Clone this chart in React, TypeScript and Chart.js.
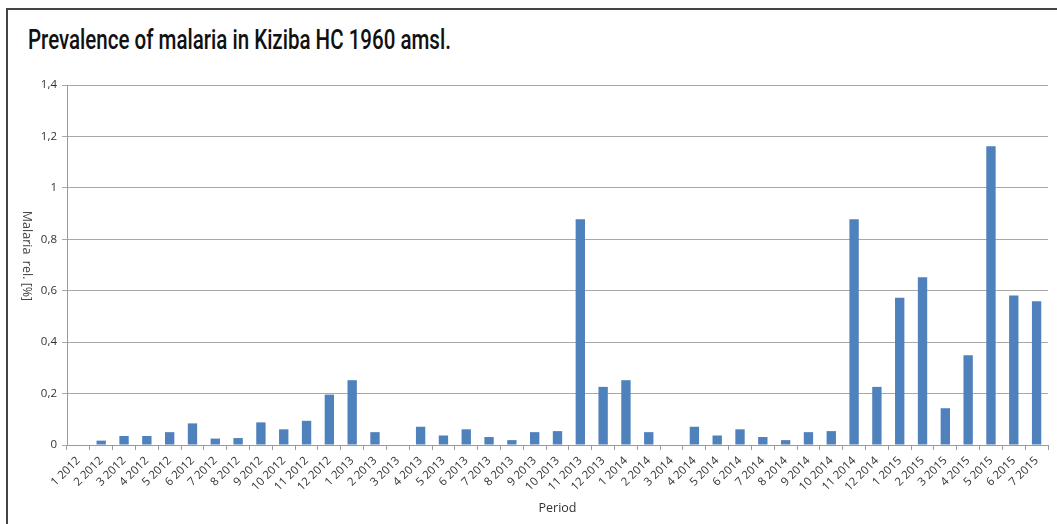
import React, { useEffect, useRef } from "react";
import { Chart, registerables } from "chart.js";

Chart.register(...registerables);

const categories: string[] = [
  "1 2012", "2 2012", "3 2012", "4 2012", "5 2012", "6 2012", "7 2012", "8 2012", "9 2012", "10 2012", "11 2012", "12 2012",
  "1 2013", "2 2013", "3 2013", "4 2013", "5 2013", "6 2013", "7 2013", "8 2013", "9 2013", "10 2013", "11 2013", "12 2013",
  "1 2014", "2 2014", "3 2014", "4 2014", "5 2014", "6 2014", "7 2014", "8 2014", "9 2014", "10 2014", "11 2014", "12 2014",
  "1 2015", "2 2015", "3 2015", "4 2015", "5 2015", "6 2015", "7 2015",
];

const malariaValues: number[] = [
  0, 0.017, 0.035, 0.035, 0.05, 0.084, 0.025, 0.027, 0.088, 0.061, 0.094, 0.196,
  0.252, 0.05, 0, 0.071, 0.037, 0.061, 0.031, 0.019, 0.05, 0.054, 0.878, 0.226,
  0.252, 0.05, 0, 0.071, 0.037, 0.061, 0.031, 0.019, 0.05, 0.054, 0.878, 0.226,
  0.573, 0.652, 0.143, 0.349, 1.162, 0.581, 0.559,
];

const yTicks: number[] = [0, 0.2, 0.4, 0.6, 0.8, 1, 1.2, 1.4];

const titleText = "Prevalence of malaria in Kiziba HC 1960 amsl.";
const yAxisTitle = "Malaria  rel. [%]";
const xAxisTitle = "Period";

const formatTick = (v: number) => {
  const nearest = yTicks.reduce((a, b) => (Math.abs(b - v) < Math.abs(a - v) ? b : a), yTicks[0]);
  return String(nearest).replace(".", ",");
};

const yTitlePlugin = {
  id: "yTitleDown",
  afterDraw(chart: any) {
    const ctx = chart.ctx;
    ctx.save();
    ctx.translate(27, 256);
    ctx.rotate(Math.PI / 2);
    ctx.font = "12.5px 'Open Sans'";
    ctx.fillStyle = "#444";
    ctx.textAlign = "center";
    ctx.textBaseline = "middle";
    ctx.fillText(yAxisTitle, 0, 0);
    ctx.restore();
  },
};

export default function App() {
  const canvasRef = useRef<HTMLCanvasElement | null>(null);

  useEffect(() => {
    if (!canvasRef.current) return;
    const chart = new Chart(canvasRef.current, {
      type: "bar",
      data: {
        labels: categories,
        datasets: [
          {
            data: malariaValues,
            backgroundColor: "#4F81BD",
            borderWidth: 0,
            barPercentage: 0.41,
            categoryPercentage: 1,
          },
        ],
      },
      options: {
        animation: false,
        responsive: false,
        maintainAspectRatio: false,
        layout: { padding: { left: 0, top: 85, right: 9, bottom: 0 } },
        plugins: {
          legend: { display: false },
          tooltip: { enabled: false },
          title: { display: false },
        },
        scales: {
          x: {
            afterFit: (s: any) => {
              s.height = 79;
            },
            grid: {
              drawOnChartArea: false,
              drawTicks: true,
              tickLength: 5,
              color: "#9a9a9a",
              offset: true,
            },
            border: { display: true, color: "#9a9a9a", width: 1 },
            ticks: {
              autoSkip: false,
              maxRotation: 45,
              minRotation: 45,
              padding: 4,
              color: "#333",
              font: { family: "'Open Sans'", size: 11.5 },
            },
            title: {
              display: true,
              text: xAxisTitle,
              color: "#333",
              font: { family: "'Open Sans'", size: 12.5 },
              padding: { top: 0, bottom: 8 },
            },
          },
          y: {
            min: 0,
            max: 1.4,
            afterFit: (s: any) => {
              s.width = 67;
            },
            afterBuildTicks: (s: any) => {
              s.ticks = yTicks.map((v) => ({ value: v }));
            },
            grid: {
              color: "#a8a8a8",
              lineWidth: 1,
              drawTicks: true,
              tickLength: 5,
            },
            border: { display: true, color: "#9a9a9a", width: 1 },
            ticks: {
              padding: 5,
              color: "#333",
              font: { family: "'Open Sans'", size: 11.5 },
              callback: (v: any) => formatTick(Number(v)),
            },
          },
        },
      },
      plugins: [yTitlePlugin],
    });
    return () => chart.destroy();
  }, []);

  return (
    <div style={{ position: "fixed", left: 0, top: 0, width: 1057, height: 524, overflow: "hidden", background: "#fff" }}>
      <div
        style={{
          position: "absolute",
          left: 6,
          top: 8,
          width: 1100,
          height: 600,
          borderTop: "2px solid #444",
          borderLeft: "2px solid #444",
        }}
      />
      <div
        style={{
          position: "absolute",
          left: 28,
          top: 24,
          fontFamily: "Roboto, sans-serif",
          fontSize: 27,
          fontWeight: 500,
          color: "#111",
          whiteSpace: "nowrap",
          transform: "scaleX(0.76)",
          transformOrigin: "left top",
        }}
      >
        {titleText}
      </div>
      <canvas ref={canvasRef} width={1057} height={524} style={{ position: "absolute", left: 0, top: 0 }} />
    </div>
  );
}
